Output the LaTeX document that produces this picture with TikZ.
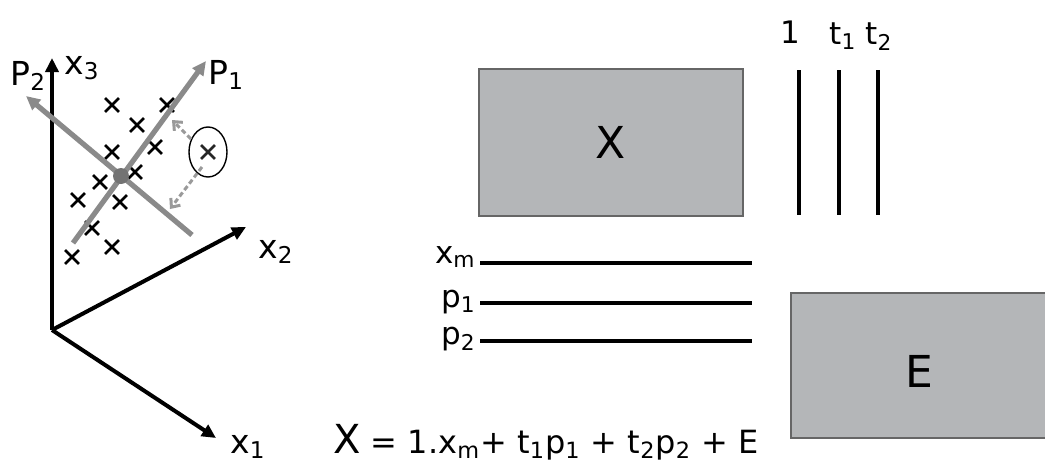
\documentclass[tikz,border=0pt]{standalone}
\usepackage{fontspec}
\setmainfont{DejaVu Sans}
\usetikzlibrary{arrows.meta,shapes.misc,shapes.geometric}
\definecolor{boxgray}{HTML}{B4B6B8}
\definecolor{pgray}{HTML}{8A8A8A}
\definecolor{dgray}{HTML}{9A9A9A}
\begin{document}
\begin{tikzpicture}[x=0.5pt,y=-0.5pt,
  axis/.style={line width=2pt,-{Triangle[length=7pt,width=6.5pt]}},
  pline/.style={pgray,line width=2.6pt,-{Triangle[length=7pt,width=6.5pt]}},
  xmark/.style={cross out,draw,line width=1.4pt,minimum size=5.5pt,inner sep=0pt},
  lab/.style={font=\fontsize{16.5}{19}\selectfont,inner sep=0pt},
  rlab/.style={font=\fontsize{15.5}{18}\selectfont,inner sep=0pt},
  bar/.style={line width=2pt},
  mbox/.style={draw=black!60,fill=boxgray,line width=0.8pt,inner sep=0pt,font=\fontsize{22}{26}\selectfont},
  proj/.style={dgray,line width=1.5pt,dash pattern=on 2.5pt off 1.5pt,-{Straight Barb[length=3.5pt,width=6pt]}}
]
\useasboundingbox (0,0) rectangle (1045,461);

% axes
\coordinate (O) at (52,330);
\coordinate (X3) at (52,58);
\coordinate (X2) at (246,227);
\coordinate (X1) at (216,438);
\draw[axis] (O) -- (X3);
\draw[axis] (O) -- (X2);
\draw[axis] (O) -- (X1);
\node[lab,anchor=base west] (lx3) at (64,74) {x\textsubscript{3}};
\node[lab,anchor=base west] (lx2) at (258,258) {x\textsubscript{2}};
\node[lab,anchor=base west] (lx1) at (230,453) {x\textsubscript{1}};

% data crosses
\foreach \i/\p in {1/{(112,105)},2/{(167,105)},3/{(137,125)},4/{(155,147)},5/{(112,152)},6/{(135,172)},7/{(100,182)},8/{(78,200)},9/{(120,202)},10/{(92,228)},11/{(112,247)},12/{(72,257)}}
  \node[xmark] (c\i) at \p {};

% principal directions
\coordinate (P1a) at (73,243);
\coordinate (P1b) at (206,61);
\coordinate (P2a) at (192,235);
\coordinate (P2b) at (26,96);
\draw[pline] (P1a) -- (P1b);
\draw[pline] (P2a) -- (P2b);
\node[circle,fill=black!55,minimum size=8pt,inner sep=0pt] (m) at (121,176) {};
\node[lab,anchor=base west] (lp1) at (208,84) {P\textsubscript{1}};
\node[lab,anchor=base west] (lp2) at (10,85) {P\textsubscript{2}};

% circled point and projections
\node[xmark,draw=black!85] (cp) at (208,152) {};
\node[ellipse,draw,line width=0.7pt,minimum width=19pt,minimum height=25pt,inner sep=0pt] (ell) at (208,152) {};
\coordinate (pr1) at (172,120);
\coordinate (pr2) at (170,209);
\coordinate (e1) at (191,139);
\coordinate (e2) at (202,167);
\draw[proj] (e1) -- (pr1);
\draw[proj] (e2) -- (pr2);

% matrix X
\node[mbox,minimum width=132pt,minimum height=73.5pt] (X) at (611,142.5) {X};

% score columns
\foreach \n/\x in {one/799,ta/839,tb/878}{
  \coordinate (\n top) at (\x,70);
  \coordinate (\n bot) at (\x,215);
  \draw[bar] (\n top) -- (\n bot);
}
\node[rlab,anchor=base] (l1) at (790,43) {1};
\node[rlab,anchor=base west] (lt1) at (829,44) {t\textsubscript{1}};
\node[rlab,anchor=base west] (lt2) at (865,44) {t\textsubscript{2}};

% loading rows
\foreach \n/\y in {xm/263,pa/303,pb/341}{
  \coordinate (\n L) at (480,\y);
  \coordinate (\n R) at (752,\y);
  \draw[bar] (\n L) -- (\n R);
}
\node[rlab,anchor=base east] (lxm) at (476,263) {x\textsubscript{m}};
\node[rlab,anchor=base east] (lpa) at (476,307) {p\textsubscript{1}};
\node[rlab,anchor=base east] (lpb) at (476,344) {p\textsubscript{2}};

% residuals E
\path[fill=boxgray] (791,293) rectangle (1045,438);
\draw[black!60,line width=0.8pt] (1045,293) -- (791,293) -- (791,438) -- (1045,438);
\node[font=\fontsize{22}{26}\selectfont,inner sep=0pt] (E) at (919,371) {E};

% equation
\node[anchor=base west,inner sep=0pt,font=\fontsize{16}{19}\selectfont] (eq) at (333,453)
  {{\fontsize{20}{24}\selectfont X} = 1.x\textsubscript{m}+ t\textsubscript{1}p\textsubscript{1} + t\textsubscript{2}p\textsubscript{2} + E};
\end{tikzpicture}
\end{document}
